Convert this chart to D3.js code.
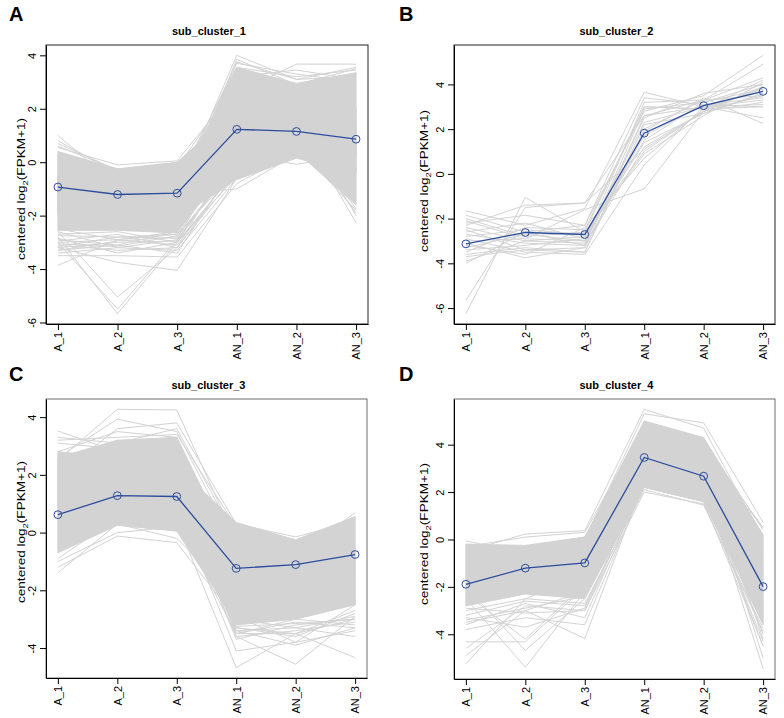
<!DOCTYPE html>
<html>
<head>
<meta charset="utf-8">
<script src="https://cdn.jsdelivr.net/npm/d3@7"></script>
<style>
  body { margin: 0; background: #fff; }
  svg { display: block; font-family: "Liberation Sans", Arial, sans-serif; }
</style>
</head>
<body>
<svg id="chart" width="784" height="718"></svg>
<script>
// samples on the x axis
const samples = ["A_1", "A_2", "A_3", "AN_1", "AN_2", "AN_3"];
const panelLetters = ["A", "B", "C", "D"];
const panelTitles = ["sub_cluster_1", "sub_cluster_2", "sub_cluster_3", "sub_cluster_4"];
const ticksAB = [-6, -4, -2, 0, 2, 4];
const ticksCD = [-4, -2, 0, 2, 4];

// cluster means (blue line)
const meanA = [-0.93, -1.21, -1.16, 1.23, 1.15, 0.86];
const meanB = [-3.13, -2.62, -2.71, 1.82, 3.05, 3.69];
const meanC = [0.62, 1.28, 1.25, -1.24, -1.11, -0.76];
const meanD = [-1.89, -1.21, -0.99, 3.46, 2.67, -1.99];

// dense bundles of genes: upper / lower bounds per sample
const bandsA = [
  { hi: [0.4, -0.25, -1.0, 3.55, 2.95, 3.35], lo: [-2.55, -2.55, -2.65, 0.6, 0.9, 0.2] },
  { hi: [0.3, -0.25, 0.0, 2.0, 2.2, 2.0], lo: [-1.2, -1.4, -1.3, 0.4, 0.8, 0.5] },
  { hi: [-0.5, -0.8, -0.8, 2.4, 2.2, 0.6], lo: [-2.0, -2.2, -2.0, 0.6, 0.4, -1.6] },
  { hi: [-1.0, -1.3, -1.3, 1.0, 1.2, 0.6], lo: [-1.9, -2.1, -2.1, -0.65, 0.15, -0.4] }
];
const bandsB = [];
const bandsC = [
  { hi: [2.8, 2.6, 2.3, 0.35, -0.25, 0.55], lo: [-0.7, 0.25, 0.05, -3.1, -2.9, -2.5] },
  { hi: [2.6, 3.2, 3.3, -0.9, -1.2, -0.6], lo: [0.5, 1.2, 1.0, -3.2, -3.0, -2.5] }
];
const bandsD = [
  { hi: [-0.2, -0.25, 0.1, 5.0, 4.3, 0.2], lo: [-2.8, -2.3, -2.5, 2.2, 1.6, -3.6] }
];

// individual gene profiles outside / on the edges of the dense bundles
const genesA = [
  [1.0, -0.9, -0.6, 2.5, 2.2, 2.0], [0.8, -0.4, -0.2, 3.0, 2.6, 2.8], [0.6, -0.3, -0.1, 2.2, 2.0, 1.5],
  [0.7, -0.3, -0.5, 1.5, 1.4, 1.2], [0.55, -0.1, 0.05, 2.8, 2.5, 2.6],
  [-1.0, -1.5, -1.2, 4.0, 3.1, 3.2], [-1.8, -2.0, -1.5, 3.85, 2.9, 3.5], [-0.6, -1.0, -0.9, 3.7, 3.3, 3.0],
  [-1.2, -1.6, -1.4, 2.6, 3.67, 3.67], [-0.9, -1.3, -1.1, 3.2, 3.45, 3.1],
  [-1.4, -1.7, -1.6, 3.75, 3.1, 3.55], [-0.8, -1.1, -0.7, 3.55, 3.2, 3.45],
  [-1.0, -1.2, -1.0, 1.5, 1.6, -2.27], [-1.5, -1.5, -1.2, 1.2, 1.8, -2.0], [-0.5, -1.0, -0.8, 1.8, 1.2, -1.9],
  [-1.2, -1.8, -1.5, 0.8, 0.6, -1.8], [-1.1, -1.4, -1.3, 1.0, 1.4, -1.75], [-0.7, -1.1, -0.9, 2.0, 2.0, -1.5],
  [-1.6, -1.8, -1.2, -1.0, 0.3, 0.0], [-1.4, -1.6, -1.3, 0.3, -0.08, 0.3],
  [-3.0, -2.9, -3.1, -0.2, 0.7, 0.6], [-3.2, -3.0, -2.95, 0.2, 1.0, 0.8], [-3.1, -3.3, -3.2, -0.4, 0.6, -0.2],
  [-2.9, -3.1, -3.4, 0.0, 0.9, 1.0], [-3.3, -2.95, -2.8, -0.1, 0.5, 0.3], [-2.85, -3.4, -3.0, 0.3, 1.1, 0.9],
  [-2.5, -2.9, -2.6, 0.5, 1.2, 1.1], [-2.7, -2.6, -3.0, -0.3, 0.8, 0.4], [-3.15, -2.8, -2.7, 0.4, 1.3, 1.5],
  [-2.6, -3.2, -2.9, 0.1, 0.9, -0.3], [-2.95, -2.7, -3.2, 0.6, 1.0, 0.7], [-3.3, -3.1, -2.6, 0.2, 0.6, -0.8],
  [-2.75, -2.8, -2.85, 0.9, 1.5, 1.2], [-3.05, -3.15, -2.75, 0.0, 0.8, 0.1],
  [-3.86, -2.9, -2.7, -0.3, 0.6, 0.4], [-2.8, -5.67, -3.0, -0.5, 0.5, 0.2], [-2.6, -5.05, -3.2, -0.2, 0.8, 0.6],
  [-3.0, -5.5, -2.9, 0.1, 0.7, 0.5], [-3.2, -3.75, -4.05, -0.6, 0.3, 0.0], [-3.5, -3.5, -3.55, -0.8, 0.4, -0.5],
  [-3.4, -3.2, -3.3, -0.6, 0.5, -1.0]
];
const genesB = [
  [-6.25, -1.05, -2.6, 1.0, 2.8, 3.2], [-5.65, -1.5, -1.3, 2.6, 3.3, 4.9], [-1.65, -2.3, -1.55, 3.65, 3.0, 2.5],
  [-1.85, -2.6, -2.3, 3.4, 3.1, 3.0], [-2.0, -2.8, -2.6, 3.0, 2.9, 4.2], [-2.2, -1.85, -2.3, 2.8, 3.5, 5.3],
  [-2.4, -3.0, -3.1, 2.5, 3.6, 4.0], [-2.5, -3.4, -3.5, 2.2, 2.7, 3.6], [-2.6, -2.2, -2.9, 1.5, 3.2, 3.8],
  [-2.7, -3.1, -3.2, 1.2, 2.8, 3.9], [-2.8, -2.5, -2.7, 0.9, 2.6, 4.1], [-2.9, -3.5, -3.6, 0.4, 3.0, 3.3],
  [-3.0, -2.9, -1.6, -0.67, 2.8, 3.5], [-3.1, -3.75, -3.3, 1.9, 3.4, 2.25], [-3.3, -2.7, -3.0, 2.3, 3.0, 3.7],
  [-3.4, -3.2, -2.9, 1.7, 3.1, 3.4], [-3.5, -2.4, -2.5, 3.0, 2.9, 3.8], [-3.6, -3.3, -3.5, 2.0, 3.3, 4.3],
  [-3.9, -3.0, -2.8, 1.4, 2.7, 3.6], [-4.0, -2.6, -3.2, 2.9, 3.2, 4.0], [-2.3, -1.4, -1.3, 1.1, 2.8, 3.9],
  [-3.2, -3.6, -2.4, 0.7, 2.9, 3.0], [-2.1, -2.9, -3.0, 3.2, 3.3, 3.5], [-3.7, -3.4, -3.3, 2.6, 3.0, 3.1]
];
const genesC = [
  [2.5, 4.27, 4.25, -0.3, -1.0, -1.2], [2.6, 3.93, 3.5, -0.5, -1.2, -0.9], [3.52, 2.8, 3.0, -1.0, -1.5, -1.3],
  [2.0, 3.6, 3.8, 0.3, -0.5, -0.3], [3.2, 3.3, 3.4, 0.2, -0.4, 0.0],
  [3.1, 2.9, 3.0, -0.8, -1.3, -1.0], [2.8, 3.5, 3.3, -1.2, -1.6, -1.4], [3.3, 3.1, 3.6, -0.2, -0.9, -0.5],
  [-1.39, 0.3, 0.1, -2.5, -2.0, -1.5], [-1.2, -0.12, -0.35, -3.0, -2.5, -2.2], [-1.0, 0.0, 0.2, -2.8, -2.2, -1.8],
  [-0.6, 0.3, -0.2, -2.2, -1.6, -1.2], [-0.9, 0.5, 0.4, -4.68, -3.5, -3.0],
  [0.5, 1.0, 1.0, -4.1, -3.8, -2.5], [0.2, 1.5, 1.2, -3.6, -4.56, -2.9], [1.0, 1.2, 1.5, -3.5, -3.5, -4.33],
  [0.8, 2.0, 1.8, -3.4, -3.9, -3.3], [1.5, 2.5, 2.3, -3.0, -3.3, -3.6], [-0.5, 0.5, 0.4, -3.5, -3.1, -3.3],
  [0.0, 1.0, 0.5, -3.3, -3.6, -2.8], [0.3, 0.8, 0.7, -2.9, -3.8, -3.4], [1.2, 1.8, 1.4, -3.7, -3.2, -3.0],
  [0.4, 1.1, 1.0, -3.4, -3.3, -2.9], [1.6, 2.2, 2.0, -3.5, -3.0, -3.2], [0.9, 1.6, 1.3, -3.3, -3.5, -2.7],
  [2.2, 2.8, 2.6, -3.6, -3.4, -3.1], [0.6, 1.4, 0.9, -3.25, -3.15, -3.0],
  [1.4, 1.6, 1.5, 0.3, -0.15, 0.4], [0.8, 1.3, 1.2, 0.0, -0.3, 0.55],
  [0.5, 0.8, 0.6, -1.0, -0.8, 0.69], [1.0, 1.0, 0.9, -0.5, -0.3, 0.5]
];
const genesD = [
  [-5.25, -2.5, -1.5, 3.0, 2.5, -2.0], [-4.9, -3.0, -2.2, 2.7, 2.0, -3.0], [-4.32, -4.32, -2.0, 3.5, 3.0, -2.5],
  [-4.6, -2.8, -3.0, 2.4, 1.9, -3.3], [-2.5, -5.39, -2.2, 3.2, 2.8, -3.0], [-2.0, -4.68, -2.5, 2.8, 2.2, -1.5],
  [-2.3, -4.2, -1.9, 3.3, 2.6, -2.2], [-3.5, -3.0, -4.18, 2.5, 2.0, -4.5], [-3.8, -3.3, -3.6, 2.3, 1.8, -3.2],
  [-3.3, -3.7, -2.9, 2.6, 2.1, -2.6],
  [-3.2, -2.6, -2.8, 2.2, 1.6, -3.5], [-3.4, -2.9, -2.4, 2.6, 2.0, -2.8], [-2.9, -3.1, -3.0, 2.0, 1.5, -3.9],
  [-3.6, -2.7, -3.3, 2.4, 1.9, -3.6], [-3.0, -2.5, -2.7, 2.1, 1.45, -3.75],
  [-0.5, 0.23, 0.37, 5.49, 4.7, 0.0], [-1.0, -0.5, 0.0, 5.3, 4.92, 0.72], [-0.06, -0.6, -0.2, 4.5, 4.0, 0.5],
  [-0.3, 0.1, 0.3, 4.8, 4.2, 0.4], [-0.2, -0.3, 0.1, 3.8, 3.3, -0.3], [-1.2, -1.0, -0.6, 4.2, 3.6, 0.5],
  [-1.0, -1.2, -0.8, 3.0, 2.5, -5.45], [-1.8, -1.5, -1.2, 3.5, 2.9, -5.0], [-1.5, -1.3, -1.0, 2.2, 1.6, -4.5],
  [-2.0, -1.8, -1.5, 4.0, 3.2, -4.2], [-1.6, -1.4, -1.1, 3.0, 2.4, -4.0], [-2.2, -2.0, -1.6, 2.5, 1.9, -4.3]
];

const gray = "#d3d3d3";
const blue = "#2c4d9c";

const panels = [
  { mean: meanA, bands: bandsA, genes: genesA, ticks: ticksAB, box: [46, 368, 45, 324], frame: "#222", labelDx: 25, labelY: 189 },
  { mean: meanB, bands: bandsB, genes: genesB, ticks: ticksAB, box: [454, 775, 45, 324], frame: "#222", labelDx: 30, labelY: 181 },
  { mean: meanC, bands: bandsC, genes: genesC, ticks: ticksCD, box: [46, 367, 399, 678], frame: "#6e6e6e", labelDx: 25, labelY: 532 },
  { mean: meanD, bands: bandsD, genes: genesD, ticks: ticksCD, box: [454, 775, 399, 679], frame: "#6e6e6e", labelDx: 30, labelY: 534 }
];

const svg = d3.select("#chart");

panels.forEach((p, k) => {
  const [x0, x1, y0, y1] = p.box;
  const g = svg.append("g");

  // R-style limits: data range padded by 4%
  const all = p.mean.concat(p.genes.flat(), p.bands.flatMap(b => b.hi.concat(b.lo)));
  const [mn, mx] = d3.extent(all);
  const pad = (mx - mn) * 0.04;

  const x = d3.scalePoint().domain(samples).range([x0, x1]).padding(0.2);
  const y = d3.scaleLinear().domain([mn - pad, mx + pad]).range([y1, y0]);

  const area = d3.area()
    .x((d, i) => x(samples[i]))
    .y0(d => y(d[0]))
    .y1(d => y(d[1]));
  const line = d3.line()
    .x((d, i) => x(samples[i]))
    .y(d => y(d));

  p.bands.forEach(b => {
    g.append("path")
      .datum(b.lo.map((v, i) => [v, b.hi[i]]))
      .attr("fill", gray)
      .attr("stroke", gray)
      .attr("stroke-width", 1)
      .attr("d", area);
  });

  g.append("g").selectAll("path")
    .data(p.genes)
    .join("path")
    .attr("fill", "none")
    .attr("stroke", gray)
    .attr("stroke-width", 1)
    .attr("d", line);

  // mean profile
  g.append("path")
    .datum(p.mean)
    .attr("fill", "none")
    .attr("stroke", blue)
    .attr("stroke-width", 1.3)
    .attr("d", line);
  g.append("g").selectAll("circle")
    .data(p.mean)
    .join("circle")
    .attr("cx", (d, i) => x(samples[i]))
    .attr("cy", d => y(d))
    .attr("r", 3.9)
    .attr("fill", "none")
    .attr("stroke", blue)
    .attr("stroke-width", 1);

  // frame
  g.append("rect")
    .attr("x", x0).attr("y", y0)
    .attr("width", x1 - x0).attr("height", y1 - y0)
    .attr("fill", "none")
    .attr("stroke", p.frame);

  // y axis
  const ya = g.append("g")
    .attr("transform", `translate(${x0},0)`)
    .call(d3.axisLeft(y).tickValues(p.ticks).tickSize(6).tickSizeOuter(0).tickFormat(d => String(d)));
  ya.select(".domain").attr("stroke", "#000");
  ya.selectAll(".tick line").attr("stroke", "#000");
  ya.selectAll(".tick text")
    .attr("x", null).attr("dy", null)
    .attr("transform", "translate(-10.5,0) rotate(-90)")
    .attr("text-anchor", "middle")
    .attr("font-size", 11)
    .attr("font-family", "Liberation Sans, Arial, sans-serif")
    .attr("fill", "#000");

  // x axis
  const xa = g.append("g")
    .attr("transform", `translate(0,${y1})`)
    .call(d3.axisBottom(x).tickSize(6).tickSizeOuter(0));
  xa.select(".domain").attr("stroke", "#000");
  xa.selectAll(".tick line").attr("stroke", "#000");
  xa.selectAll(".tick text")
    .attr("y", null).attr("dy", "0.35em")
    .attr("transform", "translate(0,8) rotate(-90)")
    .attr("text-anchor", "end")
    .attr("font-size", 11)
    .attr("font-family", "Liberation Sans, Arial, sans-serif")
    .attr("fill", "#000");

  // y label (slightly stretched along its length, as in the source figure)
  const yl = g.append("text")
    .attr("transform", `translate(${x0 - p.labelDx},${p.labelY}) rotate(-90) scale(1.18,1)`)
    .attr("text-anchor", "middle")
    .attr("dy", "0.35em")
    .attr("font-size", 11.5);
  yl.append("tspan").text("centered log");
  yl.append("tspan").attr("font-size", 8).attr("dy", 2.5).text("2");
  yl.append("tspan").attr("dy", -2.5).text("(FPKM+1)");

  // title
  g.append("text")
    .attr("x", (x0 + x1) / 2 + 2)
    .attr("y", y0 - 10)
    .attr("text-anchor", "middle")
    .attr("font-size", 11)
    .attr("font-weight", "bold")
    .text(panelTitles[k]);

  // panel letter
  g.append("text")
    .attr("x", k % 2 === 0 ? 9 : 399)
    .attr("y", k < 2 ? 21 : 381)
    .attr("font-size", 20)
    .attr("font-weight", "bold")
    .text(panelLetters[k]);
});
</script>
</body>
</html>
